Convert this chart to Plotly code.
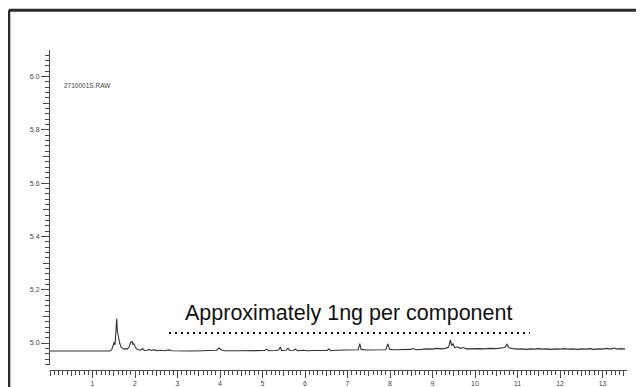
import plotly.graph_objects as go

# Chromatogram (retention time, min) and response
rt = [0.00, 1.40, 1.45, 1.49, 1.51, 1.53, 1.555, 1.57, 1.585, 1.60, 1.62, 1.64, 1.67, 1.70, 1.74,
      1.78, 1.82, 1.86, 1.90, 1.93, 1.95, 1.97, 2.00, 2.03, 2.08, 2.13, 2.18, 2.22, 2.28, 2.33,
      2.38, 2.45, 2.52, 2.60, 2.70, 2.80, 2.86, 3.00, 3.30, 3.60, 3.80, 3.92, 3.98, 4.03, 4.10,
      4.20, 4.24, 4.30, 4.50, 4.70, 4.90, 5.05, 5.10, 5.14, 5.30, 5.38, 5.42, 5.45, 5.55, 5.60,
      5.64, 5.72, 5.78, 5.82, 5.95, 6.05, 6.20, 6.40, 6.52, 6.56, 6.60, 6.70, 6.80, 6.95, 7.10,
      7.25, 7.29, 7.32, 7.45, 7.60, 7.75, 7.90, 7.95, 7.99, 8.10, 8.30, 8.50, 8.55, 8.60, 8.75,
      8.85, 9.00, 9.10, 9.20, 9.30, 9.38, 9.42, 9.45, 9.48, 9.52, 9.58, 9.65, 9.72, 9.80, 9.90,
      10.00, 10.10, 10.20, 10.35, 10.50, 10.60, 10.70, 10.75, 10.80, 10.90, 11.00, 11.10, 11.20,
      11.30, 11.40, 11.50, 11.60, 11.70, 11.80, 11.90, 12.00, 12.10, 12.20, 12.30, 12.40, 12.50,
      12.60, 12.70, 12.80, 12.90, 13.00, 13.10, 13.20, 13.27, 13.35, 13.45, 13.53]
response = [4.970, 4.970, 4.974, 4.992, 5.003, 4.993, 5.060, 5.092, 5.045, 5.030, 5.022, 5.000, 4.985, 4.980, 4.977,
            4.979, 4.977, 4.985, 5.003, 5.006, 4.995, 4.998, 4.988, 4.978, 4.975, 4.973, 4.979, 4.972, 4.973, 4.976,
            4.972, 4.975, 4.971, 4.973, 4.971, 4.974, 4.971, 4.970, 4.970, 4.971, 4.971, 4.973, 4.981, 4.974, 4.971,
            4.972, 4.970, 4.971, 4.971, 4.972, 4.971, 4.972, 4.977, 4.971, 4.972, 4.974, 4.985, 4.972, 4.973, 4.980,
            4.972, 4.973, 4.977, 4.971, 4.973, 4.971, 4.972, 4.972, 4.972, 4.978, 4.971, 4.973, 4.973, 4.974, 4.975,
            4.975, 4.998, 4.976, 4.974, 4.974, 4.975, 4.975, 4.997, 4.976, 4.975, 4.975, 4.976, 4.980, 4.975, 4.976,
            4.978, 4.977, 4.980, 4.978, 4.980, 4.985, 5.012, 4.990, 4.998, 4.982, 4.986, 4.980, 4.983, 4.978, 4.979,
            4.978, 4.979, 4.978, 4.980, 4.979, 4.981, 4.983, 4.995, 4.982, 4.979, 4.977, 4.978, 4.976,
            4.978, 4.977, 4.979, 4.977, 4.978, 4.976, 4.978, 4.977, 4.979, 4.977, 4.978, 4.976, 4.978,
            4.977, 4.979, 4.976, 4.978, 4.977, 4.980, 4.977, 4.981, 4.977, 4.979, 4.977]

x_tick_values = [1, 2, 3, 4, 5, 6, 7, 8, 9, 10, 11, 12, 13]
x_tick_labels = ["1", "2", "3", "4", "5", "6", "7", "8", "9", "10", "11", "12", "13"]
y_tick_values = [5.0, 5.2, 5.4, 5.6, 5.8, 6.0]
y_tick_labels = ["5.0", "5.2", "5.4", "5.6", "5.8", "6.0"]

bracket_rt = [2.80, 11.29]
bracket_level = [5.0375, 5.0375]
file_label = "2710001S.RAW"
note_text = "Approximately 1ng per component"

X_RANGE = [0, 13.576]
Y_RANGE = [4.9175, 6.0995]
AX_COL = "#4a4a4a"
TICK_FONT = dict(family="Liberation Sans, Arial, sans-serif", size=7, color="#444444")

# page body adds an 8px offset; figure is sized to fill the rest of the window
PLOT_W, PLOT_H = 577, 320
ML, MT = 42, 42

fig = go.Figure()
fig.add_trace(go.Scatter(x=rt, y=response, mode="lines",
                         line=dict(color="#333333", width=1.1), hoverinfo="skip",
                         showlegend=False))
fig.add_trace(go.Scatter(x=bracket_rt, y=bracket_level, mode="lines",
                         line=dict(color="#111111", width=2, dash="2px,4px"),
                         xaxis="x2", yaxis="y2", hoverinfo="skip", showlegend=False))

fig.update_layout(
    width=636, height=379,
    margin=dict(l=ML, r=17, t=MT, b=17, autoexpand=False),
    paper_bgcolor="white", plot_bgcolor="white",
    showlegend=False,
    xaxis=dict(range=X_RANGE, showgrid=False, zeroline=False, automargin=False,
               showline=True, linecolor=AX_COL, linewidth=1,
               anchor="free", position=0,
               tickmode="array", tickvals=x_tick_values, ticktext=x_tick_labels,
               ticks="outside", ticklen=7, tickwidth=1, tickcolor=AX_COL,
               tickfont=TICK_FONT,
               minor=dict(dtick=0.1, tick0=0, ticks="outside", ticklen=3.5,
                          tickwidth=1, tickcolor=AX_COL, showgrid=False)),
    xaxis2=dict(range=X_RANGE, overlaying="x", anchor="free", position=0, automargin=False,
                showgrid=False, zeroline=False, showline=False,
                tick0=0, dtick=0.5, ticks="outside", ticklen=5, tickwidth=1,
                tickcolor=AX_COL, showticklabels=False),
    yaxis=dict(range=Y_RANGE, domain=[5 / PLOT_H, 1], showgrid=False, zeroline=False,
               automargin=False,
               showline=True, linecolor=AX_COL, linewidth=1,
               tickmode="array", tickvals=y_tick_values, ticktext=y_tick_labels,
               ticks="outside", ticklen=8, tickwidth=1, tickcolor=AX_COL,
               tickfont=TICK_FONT, ticklabelstandoff=0,
               minor=dict(dtick=0.02, tick0=5.0, ticks="outside", ticklen=4,
                          tickwidth=1, tickcolor=AX_COL, showgrid=False)),
    yaxis2=dict(range=Y_RANGE, overlaying="y", anchor="x2", automargin=False,
                showgrid=False, zeroline=False, showline=False,
                tick0=5.0, dtick=0.1, ticks="outside", ticklen=6, tickwidth=1,
                tickcolor=AX_COL, showticklabels=False),
    shapes=[
        dict(type="line", xref="paper", yref="paper",
             x0=(0.8 - ML) / PLOT_W, x1=1.2, y0=1 + (MT - 2.3) / PLOT_H, y1=1 + (MT - 2.3) / PLOT_H,
             line=dict(color="#2a2a2a", width=3)),
        dict(type="line", xref="paper", yref="paper",
             x0=(0.8 - ML) / PLOT_W, x1=(0.8 - ML) / PLOT_W, y0=1 + (MT - 2.3) / PLOT_H, y1=-0.2,
             line=dict(color="#2a2a2a", width=3)),
    ],
    annotations=[
        dict(text=file_label, xref="paper", yref="paper", x=0.021, y=0.89,
             xanchor="left", yanchor="middle", showarrow=False,
             font=dict(family="Liberation Sans, Arial, sans-serif", size=6.5, color="#444444")),
        dict(text=note_text, xref="paper", yref="paper", x=(348 - 50) / PLOT_W, y=(370 - 313) / PLOT_H,
             xanchor="center", yanchor="middle", showarrow=False,
             font=dict(family="Liberation Sans, Arial, sans-serif", size=21.5, color="#111111")),
    ],
)

fig.write_html("out.html")
